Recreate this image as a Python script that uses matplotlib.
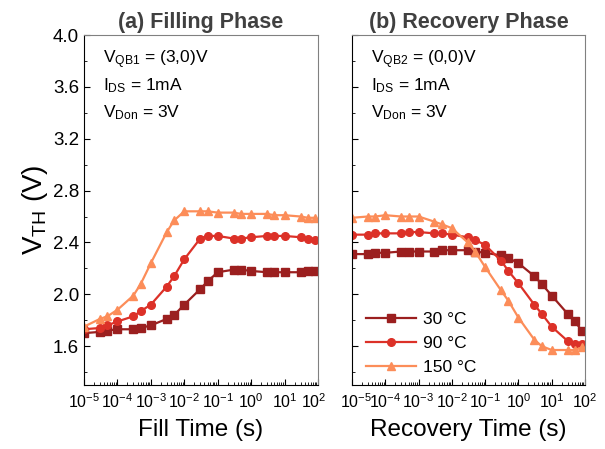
import matplotlib
matplotlib.use("Agg")
import matplotlib.pyplot as plt
import matplotlib.transforms as mtransforms
from matplotlib.ticker import LogLocator, MultipleLocator, NullFormatter

plt.rcParams['font.family'] = ['Liberation Sans', 'DejaVu Sans']
plt.rcParams['mathtext.fontset'] = 'custom'
plt.rcParams['mathtext.rm'] = 'Liberation Sans'
plt.rcParams['mathtext.it'] = 'Liberation Sans:italic'
plt.rcParams['mathtext.bf'] = 'Liberation Sans:bold'

# time grid (s), shared by both phases
t = [1e-5, 3e-5, 5e-5, 1e-4, 3e-4, 5e-4, 1e-3, 3e-3, 5e-3, 1e-2, 3e-2,
     5e-2, 0.1, 0.3, 0.5, 1, 3, 5, 10, 30, 50, 80]

labels = ['30 °C', '90 °C', '150 °C']
colors = ['#9b1f1f', '#dc3128', '#fc8d59']
markers = ['s', 'o', '^']

decades = [1e-5, 1e-4, 1e-3, 1e-2, 1e-1, 1e0, 1e1, 1e2]
decade_labels = [r'$\mathregular{10^{-5}}$', r'$\mathregular{10^{-4}}$',
                 r'$\mathregular{10^{-3}}$', r'$\mathregular{10^{-2}}$',
                 r'$\mathregular{10^{-1}}$', r'$\mathregular{10^{0}}$',
                 r'$\mathregular{10^{1}}$', r'$\mathregular{10^{2}}$']

# (a) filling phase, VTH (V)
fill_30 = [1.70, 1.71, 1.72, 1.73, 1.73, 1.74, 1.76, 1.81, 1.84, 1.92, 2.04,
           2.10, 2.17, 2.19, 2.19, 2.18, 2.17, 2.17, 2.17, 2.17, 2.18, 2.18]
fill_90 = [1.73, 1.74, 1.76, 1.79, 1.83, 1.87, 1.92, 2.06, 2.14, 2.27, 2.43,
           2.45, 2.45, 2.43, 2.43, 2.44, 2.45, 2.45, 2.45, 2.44, 2.43, 2.42]
fill_150 = [1.75, 1.81, 1.83, 1.88, 1.99, 2.08, 2.24, 2.48, 2.57, 2.64, 2.64,
            2.64, 2.63, 2.63, 2.62, 2.62, 2.62, 2.61, 2.61, 2.60, 2.59, 2.59]

# (b) recovery phase, VTH (V)
rec_30 = [2.31, 2.31, 2.32, 2.32, 2.33, 2.33, 2.33, 2.33, 2.34, 2.34, 2.34,
          2.33, 2.32, 2.30, 2.28, 2.24, 2.14, 2.08, 1.99, 1.85, 1.79, 1.72]
rec_90 = [2.46, 2.46, 2.47, 2.47, 2.47, 2.48, 2.48, 2.47, 2.47, 2.46, 2.44,
          2.42, 2.38, 2.26, 2.18, 2.085, 1.92, 1.85, 1.75, 1.64, 1.62, 1.62]
rec_150 = [2.59, 2.60, 2.60, 2.61, 2.60, 2.60, 2.60, 2.56, 2.54, 2.51, 2.40,
           2.33, 2.21, 2.03, 1.95, 1.82, 1.65, 1.60, 1.57, 1.57, 1.57, 1.59]

fig = plt.figure(figsize=(6.05, 4.49), dpi=100)
ax1 = fig.add_axes([0.1388, 0.1425, 0.3868, 0.7795])
ax2 = fig.add_axes([0.5818, 0.1425, 0.3851, 0.7795])

for ax, series in ((ax1, [fill_30, fill_90, fill_150]), (ax2, [rec_30, rec_90, rec_150])):
    for y, c, m, lab in zip(series, colors, markers, labels):
        ax.plot(t, y, color=c, marker=m, ms=5.5, lw=1.6, label=lab, clip_on=True)
    ax.set_xscale('log')
    ax.set_xlim(1e-5, 1e2)
    ax.set_ylim(1.3, 4.0)
    ax.set_xticks(decades, decade_labels)
    ax.xaxis.set_minor_locator(LogLocator(base=10, subs=range(2, 10), numticks=20))
    ax.xaxis.set_minor_formatter(NullFormatter())
    ax.yaxis.set_major_locator(MultipleLocator(0.4))
    ax.yaxis.set_minor_locator(MultipleLocator(0.2))
    ax.tick_params(which='both', direction='in')
    ax.tick_params(axis='x', labelsize=11.5, pad=5)
    ax.tick_params(axis='y', labelsize=13.5)
    ax.tick_params(which='major', length=4)
    ax.tick_params(which='minor', length=2)
    for s in ('top', 'right'):
        ax.spines[s].set_color('#808080')
    for s in ('left', 'bottom'):
        ax.spines[s].set_color('black')

ax1.yaxis.set_major_formatter(plt.FormatStrFormatter('%.1f'))
ax2.tick_params(axis='y', labelleft=False)

# nudge the two tick labels that meet between the panels apart a little
shift_l = mtransforms.ScaledTranslation(-3 / 72, 0, fig.dpi_scale_trans)
shift_r = mtransforms.ScaledTranslation(3 / 72, 0, fig.dpi_scale_trans)
lab1 = ax1.get_xticklabels()
lab2 = ax2.get_xticklabels()
lab1[-1].set_transform(lab1[-1].get_transform() + shift_l)
lab2[0].set_transform(lab2[0].get_transform() + shift_r)

ax1.set_title('(a) Filling Phase', fontsize=15.5, fontweight='bold', color='#404040', pad=5)
ax2.set_title('(b) Recovery Phase', fontsize=15.5, fontweight='bold', color='#404040', pad=5)
ax1.set_xlabel('Fill Time (s)', fontsize=17.5, labelpad=6)
ax2.set_xlabel('Recovery Time (s)', fontsize=17.5, labelpad=6)
ax1.set_ylabel(r'$\mathregular{V_{TH}}$ (V)', fontsize=20, labelpad=2)

# condition notes
notes_a = [r'$\mathregular{V_{QB1}}$ = (3,0)V', r'$\mathregular{I_{DS}}$ = 1mA',
           r'$\mathregular{V_{Don}}$ = 3V']
notes_b = [r'$\mathregular{V_{QB2}}$ = (0,0)V', r'$\mathregular{I_{DS}}$ = 1mA',
           r'$\mathregular{V_{Don}}$ = 3V']
for ax, notes in ((ax1, notes_a), (ax2, notes_b)):
    for i, s in enumerate(notes):
        ax.text(0.08, 0.93 - i * 0.076, s, transform=ax.transAxes,
                fontsize=12.5, va='center', ha='left')

ax2.legend(loc='lower left', bbox_to_anchor=(0.0, -0.01), frameon=False,
           fontsize=12.5, handlelength=2.9, handletextpad=0.4,
           labelspacing=0.5, borderaxespad=0.4)

fig.savefig('out.png', dpi=100)
